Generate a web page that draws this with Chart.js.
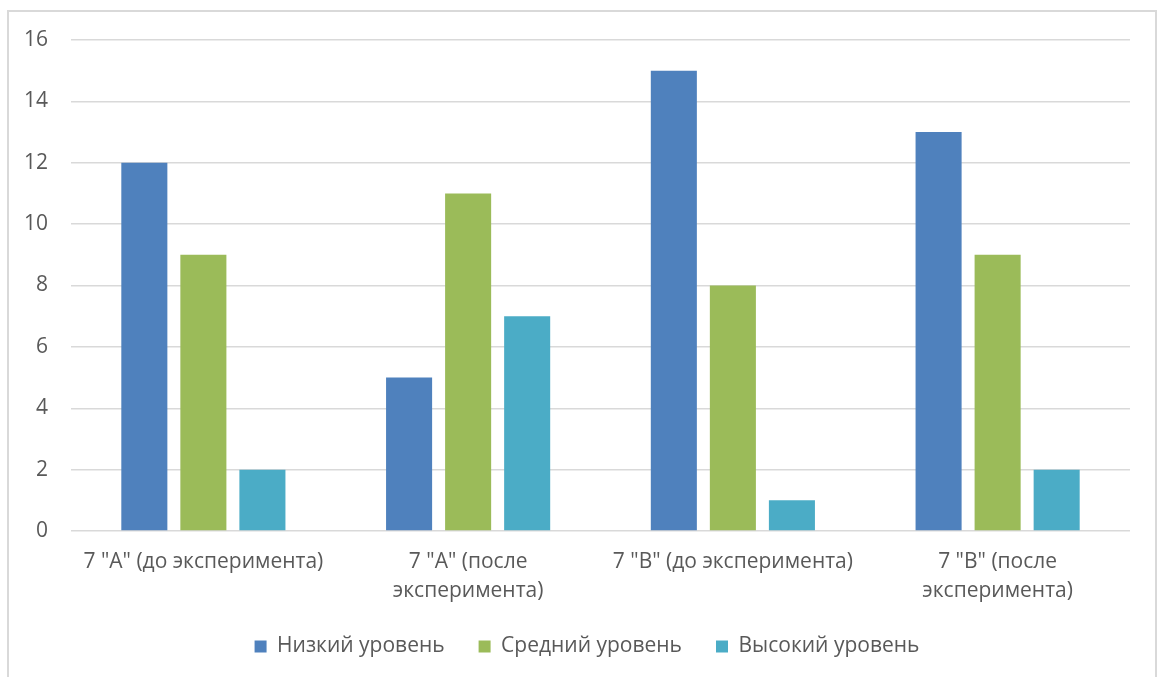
<!DOCTYPE html>
<html>
<head>
<meta charset="utf-8">
<script src="https://cdn.jsdelivr.net/npm/chart.js@4/dist/chart.umd.min.js"></script>
<style>
  html, body { margin: 0; padding: 0; background: #ffffff; }
  #frame {
    position: absolute; left: 7px; top: 10px; width: 1150px; height: 700px;
    border: 2px solid #d9d9d9; box-sizing: border-box;
  }
  #wrap { position: absolute; left: 0; top: 0; width: 1160px; height: 677px; }
</style>
</head>
<body>
<div id="frame"></div>
<div id="wrap"><canvas id="chart"></canvas></div>
<script>
// Classes and measurement stage
const categories = [
  '7 "A" (до эксперимента)',
  ['7 "A" (после', 'эксперимента)'],
  '7 "B" (до эксперимента)',
  ['7 "B" (после', 'эксперимента)']
];
const seriesNames = ['Низкий уровень', 'Средний уровень', 'Высокий уровень'];
const lowLevel = [12, 5, 15, 13];
const midLevel = [9, 11, 8, 9];
const highLevel = [2, 7, 1, 2];
const yTicks = [0, 2, 4, 6, 8, 10, 12, 14, 16];

const colors = ['#4f81bd', '#9bbb59', '#4bacc6'];
const FONT = "'Open Sans', 'Noto Sans', sans-serif";
const SIZE = 21;

// Centre the legend under the framed area rather than the canvas
const legendShift = {
  id: 'legendShift',
  afterLayout(chart) {
    if (chart.legend) { chart.legend.left += 22; chart.legend.right += 22; }
  }
};

new Chart(document.getElementById('chart'), {
  type: 'bar',
  plugins: [legendShift],
  data: {
    labels: categories,
    datasets: [lowLevel, midLevel, highLevel].map((d, i) => ({
      label: seriesNames[i],
      data: d,
      backgroundColor: colors[i],
      borderWidth: 0,
      categoryPercentage: 0.669,
      barPercentage: 0.78
    }))
  },
  options: {
    responsive: true,
    maintainAspectRatio: false,
    animation: false,
    layout: { padding: { left: 0, right: 30, top: 40, bottom: 10 } },
    plugins: {
      tooltip: { enabled: false },
      legend: {
        position: 'bottom',
        labels: {
          boxWidth: 12, boxHeight: 12, padding: 34,
          color: '#595959',
          font: { family: FONT, size: SIZE }
        }
      }
    },
    scales: {
      y: {
        min: 0, max: 16,
        afterFit: s => { s.width = 71; },
        afterBuildTicks: s => { s.ticks = yTicks.map(v => ({ value: v })); },
        grid: { color: '#d9d9d9', lineWidth: 1.5, drawTicks: false },
        border: { display: false },
        ticks: { color: '#595959', padding: 23, font: { family: FONT, size: SIZE } }
      },
      x: {
        afterFit: s => { s.height = 71; },
        grid: { display: false, drawTicks: false },
        border: { display: false },
        ticks: { color: '#595959', padding: 16, maxRotation: 0, autoSkip: false,
                 font: { family: FONT, size: SIZE, lineHeight: 1.4 } }
      }
    }
  }
});
</script>
</body>
</html>
